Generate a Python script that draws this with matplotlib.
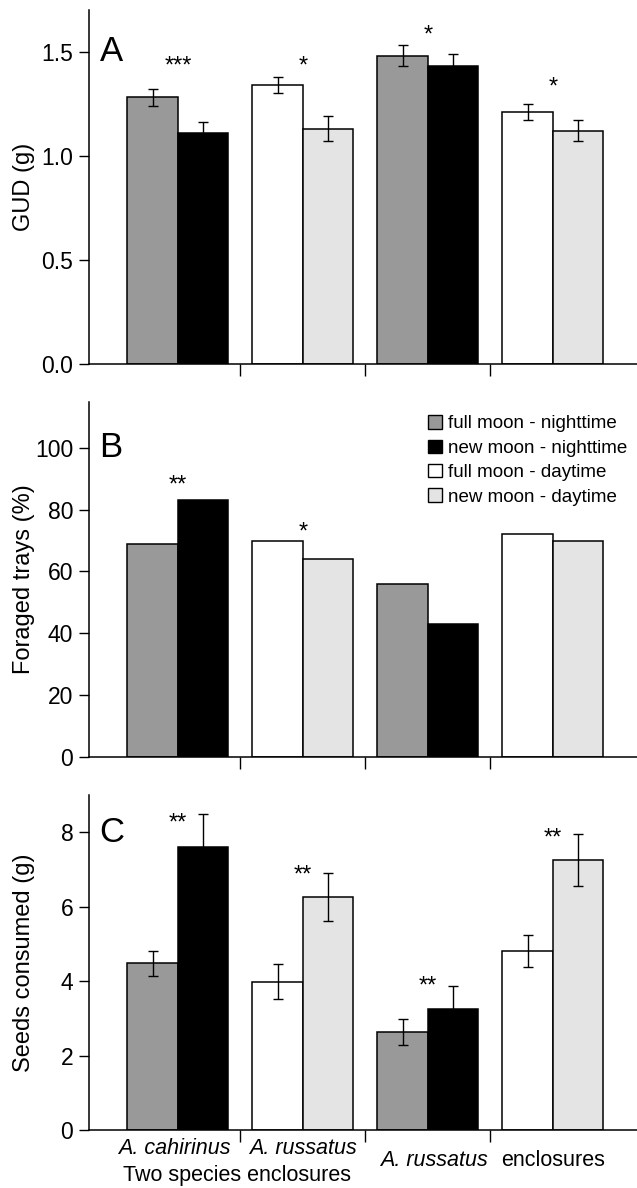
import matplotlib.pyplot as plt
from matplotlib.patches import Patch
from matplotlib.transforms import blended_transform_factory

plt.rcParams["font.family"] = ["Liberation Sans", "DejaVu Sans"]

# bar order inside each group of the figure
groups = [0, 1, 2, 3]
conditions = [
    "full moon - nighttime",
    "new moon - nighttime",
    "full moon - daytime",
    "new moon - daytime",
]
colors = {
    "full moon - nighttime": "#999999",
    "new moon - nighttime": "#000000",
    "full moon - daytime": "#ffffff",
    "new moon - daytime": "#e4e4e4",
}
# each group has a left and a right bar
left_cond = ["full moon - nighttime", "full moon - daytime",
             "full moon - nighttime", "full moon - daytime"]
right_cond = ["new moon - nighttime", "new moon - daytime",
              "new moon - nighttime", "new moon - daytime"]

# panel A: GUD (g)
gud_left = [1.28, 1.34, 1.48, 1.21]
gud_right = [1.11, 1.13, 1.43, 1.12]
gud_left_err = [0.04, 0.04, 0.05, 0.04]
gud_right_err = [0.05, 0.06, 0.06, 0.05]
gud_stars = ["***", "*", "*", "*"]
gud_star_y = [1.46, 1.46, 1.61, 1.36]

# panel B: foraged trays (%)
trays_left = [69, 70, 56, 72]
trays_right = [83, 64, 43, 70]
trays_stars = ["**", "*", "", ""]
trays_star_y = [90, 75, 0, 0]

# panel C: seeds consumed (g)
seeds_left = [4.48, 3.99, 2.63, 4.82]
seeds_right = [7.60, 6.26, 3.24, 7.26]
seeds_left_err = [0.34, 0.47, 0.34, 0.43]
seeds_right_err = [0.89, 0.64, 0.63, 0.70]
seeds_stars = ["**", "**", "**", "**"]
seeds_star_y = [8.42, 7.03, 4.03, 8.02]

BAR_W = 0.404
XLIM = (-0.715, 3.672)


def draw_panel(ax, left, right, left_err, right_err, stars, star_y,
               ylim, yticks, yticklabels, ylabel, letter):
    xs_l = [g - BAR_W / 2 for g in groups]
    xs_r = [g + BAR_W / 2 for g in groups]
    ax.bar(xs_l, left, width=BAR_W, color=[colors[c] for c in left_cond],
           edgecolor="black", linewidth=1.1, zorder=2)
    ax.bar(xs_r, right, width=BAR_W, color=[colors[c] for c in right_cond],
           edgecolor="black", linewidth=1.1, zorder=2)
    if left_err is not None:
        ax.errorbar(xs_l, left, yerr=left_err, fmt="none", ecolor="black",
                    elinewidth=1.0, capsize=3.8, capthick=1.0, zorder=3)
        ax.errorbar(xs_r, right, yerr=right_err, fmt="none", ecolor="black",
                    elinewidth=1.0, capsize=3.8, capthick=1.0, zorder=3)
    for g, s, y in zip(groups, stars, star_y):
        if s:
            ax.annotate(s, (g, y), xytext=(0, -5), textcoords="offset points",
                        ha="center", va="center", fontsize=17)

    ax.set_xlim(*XLIM)
    ax.set_ylim(*ylim)
    ax.set_yticks(yticks)
    ax.set_yticklabels(yticklabels)
    ax.set_xticks([0.5, 1.5, 2.5])
    ax.set_xticklabels([])
    ax.tick_params(axis="y", length=7, width=1.0, labelsize=16.5, pad=4)
    ax.tick_params(axis="x", length=8.5, width=1.0)
    for side in ["top", "right"]:
        ax.spines[side].set_visible(False)
    ax.spines["left"].set_linewidth(1.1)
    ax.spines["bottom"].set_linewidth(1.1)

    bb = ax.get_position()
    fig.text(0.037, (bb.y0 + bb.y1) / 2, ylabel, rotation=90,
             ha="center", va="center", fontsize=17)
    trans = blended_transform_factory(ax.transAxes, ax.transData)
    ax.text(0.02, yticks[-1], letter, transform=trans, ha="left",
            va="center", fontsize=25)


fig = plt.figure(figsize=(6.37, 11.88), dpi=100)
left = 0.1391
width = 1.0 - left
ax_a = fig.add_axes([left, 0.6936, width, 0.9916 - 0.6936])
ax_b = fig.add_axes([left, 0.3630, width, 0.6620 - 0.3630])
ax_c = fig.add_axes([left, 0.0488, width, 0.3308 - 0.0488])

draw_panel(ax_a, gud_left, gud_right, gud_left_err, gud_right_err,
           gud_stars, gud_star_y, (0, 1.7), [0.0, 0.5, 1.0, 1.5],
           ["0.0", "0.5", "1.0", "1.5"], "GUD (g)", "A")
draw_panel(ax_b, trays_left, trays_right, None, None,
           trays_stars, trays_star_y, (0, 115), [0, 20, 40, 60, 80, 100],
           ["0", "20", "40", "60", "80", "100"], "Foraged trays (%)", "B")
draw_panel(ax_c, seeds_left, seeds_right, seeds_left_err, seeds_right_err,
           seeds_stars, seeds_star_y, (0, 9), [0, 2, 4, 6, 8],
           ["0", "2", "4", "6", "8"], "Seeds consumed (g)", "C")

handles = [Patch(facecolor=colors[c], edgecolor="black", linewidth=1.0)
           for c in conditions]
ax_b.legend(handles, conditions, loc="upper left",
            bbox_to_anchor=(0.672, 0.6505), bbox_transform=fig.transFigure,
            frameon=False, fontsize=13.5, handlelength=0.72,
            handleheight=0.72, handletextpad=0.35, labelspacing=0.38,
            borderpad=0, borderaxespad=0)

xt = ax_c.get_xaxis_transform()
ax_c.text(-0.03, -0.054, "A. cahirinus", transform=xt, ha="center",
          va="center", fontsize=15.5, style="italic")
ax_c.text(1.0, -0.054, "A. russatus", transform=xt, ha="center",
          va="center", fontsize=15.5, style="italic")
ax_c.text(0.47, -0.135, "Two species enclosures", transform=xt, ha="center",
          va="center", fontsize=15.5)
ax_c.text(2.05, -0.092, "A. russatus", transform=xt, ha="center",
          va="center", fontsize=15.5, style="italic")
ax_c.text(3.0, -0.092, "enclosures", transform=xt, ha="center",
          va="center", fontsize=15.5)

fig.savefig("out.png", dpi=100)
